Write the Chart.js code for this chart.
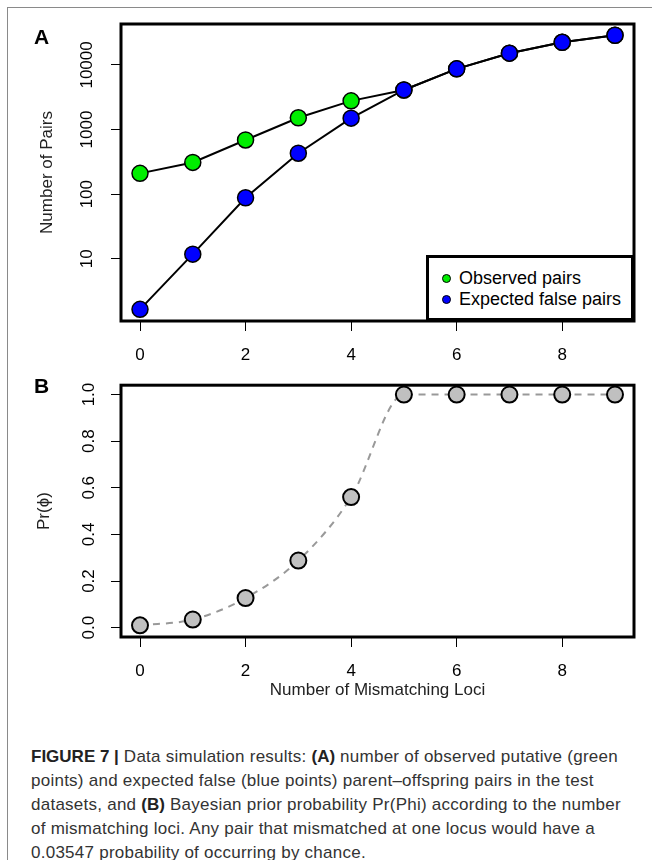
<!DOCTYPE html>
<html>
<head>
<meta charset="utf-8">
<script src="https://cdn.jsdelivr.net/npm/chart.js@4"></script>
<style>
  body { margin: 0; background: #fff; width: 652px; height: 860px; position: relative; overflow: hidden; font-family: "Liberation Sans", Arial, sans-serif; }
  .frame { position: absolute; left: 7px; top: 7px; width: 660px; height: 900px; border-left: 1px solid #8a8a8a; border-top: 1px solid #8a8a8a; }
  canvas { position: absolute; left: 0; }
  .panel { position: absolute; font-weight: bold; font-size: 21px; color: #000; }
  .legend { position: absolute; left: 426px; top: 255px; width: 208px; height: 66px; box-sizing: border-box;
            border: 3px solid #000; background: #fff; font-size: 18px; }
  .legend div { position: absolute; left: 30px; white-space: nowrap; line-height: 20px; }
  .legend span { position: absolute; left: -17px; top: 6px; width: 7px; height: 7px; border: 1px solid #000; border-radius: 50%; }
  .caption { position: absolute; left: 31px; top: 745px; font-family: "Liberation Sans", sans-serif; font-size: 17px; letter-spacing: 0.25px; line-height: 24px; color: #333; white-space: nowrap; }
  .caption b { font-weight: 700; color: #222; letter-spacing: 0; }
</style>
</head>
<body>
<div class="frame"></div>
<canvas id="chartA" width="652" height="365" style="top:0"></canvas>
<canvas id="chartB" width="652" height="340" style="top:365px"></canvas>
<div class="panel" style="left:34px; top:25px">A</div>
<div class="panel" style="left:34px; top:374px">B</div>
<div class="legend" id="legend"></div>
<div class="caption">
<b>FIGURE 7 |</b> Data simulation results: <b>(A)</b> number of observed putative (green<br>
points) and expected false (blue points) parent–offspring pairs in the test<br>
datasets, and <b>(B)</b> Bayesian prior probability Pr(Phi) according to the number<br>
of mismatching loci. Any pair that mismatched at one locus would have a<br>
0.03547 probability of occurring by chance.
</div>
<script>
// values
const mismatches = [0, 1, 2, 3, 4, 5, 6, 7, 8, 9];
const observedPairs = [210, 310, 690, 1520, 2780, 4100, 8700, 15200, 22400, 28800];
const expectedFalse = [1.65, 11.8, 88, 430, 1500, 4100, 8700, 15200, 22400, 28800];
const priorProb = [0.01, 0.035, 0.127, 0.288, 0.56, 1, 1, 1, 1, 1];

const xTicks = [0, 2, 4, 6, 8];
const yTicksA = [10, 100, 1000, 10000];
const yTicksB = [0, 0.2, 0.4, 0.6, 0.8, 1.0];

const legendItems = [
  { label: 'Observed pairs', color: '#00ee00' },
  { label: 'Expected false pairs', color: '#0000ff' }
];

const tickFont = { family: 'Liberation Sans', size: 17 };

toPoints = (vals) => mismatches.map((m, i) => ({ x: m, y: vals[i] }));

// R style box around the plot region
const boxPlugin = {
  id: 'box',
  afterDatasetsDraw(chart) {
    const a = chart.chartArea;
    const ctx = chart.ctx;
    ctx.save();
    ctx.strokeStyle = '#000';
    ctx.lineWidth = 3;
    ctx.strokeRect(a.left, a.top, a.right - a.left, a.bottom - a.top);
    ctx.restore();
  }
};

xScale = (titleText) => ({
  type: 'linear',
  min: -0.36,
  max: 9.36,
  afterBuildTicks: s => { s.ticks = xTicks.map(v => ({ value: v })); },
  afterFit: s => { s.height = titleText ? 68 : 44; },
  border: { display: false },
  grid: { drawOnChartArea: false, drawTicks: true, tickLength: 10, color: '#000', lineWidth: 1 },
  ticks: { font: tickFont, color: '#000', padding: 14, maxRotation: 0, callback: v => String(v) },
  title: titleText ? { display: true, text: titleText, font: tickFont, color: '#222', padding: { top: 0, bottom: 4 } } : { display: false }
});

new Chart(document.getElementById('chartA'), {
  type: 'line',
  data: {
    datasets: [
      {
        label: legendItems[0].label,
        data: toPoints(observedPairs),
        borderColor: '#000', borderWidth: 2,
        pointBackgroundColor: legendItems[0].color, pointBorderColor: '#000', pointBorderWidth: 1.5,
        pointRadius: 8, clip: false, order: 2
      },
      {
        label: legendItems[1].label,
        data: toPoints(expectedFalse),
        borderColor: '#000', borderWidth: 2,
        pointBackgroundColor: legendItems[1].color, pointBorderColor: '#000', pointBorderWidth: 1.5,
        pointRadius: 8, clip: false, order: 1
      }
    ]
  },
  options: {
    responsive: false,
    animation: false,
    layout: { padding: { top: 24, right: 18, left: 0, bottom: 0 } },
    plugins: { legend: { display: false }, tooltip: { enabled: false } },
    scales: {
      x: xScale(null),
      y: {
        type: 'logarithmic',
        min: 1.09,
        max: 43000,
        afterBuildTicks: s => { s.ticks = yTicksA.map(v => ({ value: v })); },
        afterFit: s => { s.width = 121; },
        border: { display: false },
        grid: { drawOnChartArea: false, drawTicks: true, tickLength: 10, color: '#000', lineWidth: 1 },
        ticks: { font: tickFont, color: '#000', padding: 0, minRotation: 90, maxRotation: 90, crossAlign: 'center', callback: v => String(v) },
        title: { display: true, text: 'Number of Pairs', font: tickFont, color: '#222', padding: { top: 37, bottom: 0 } }
      }
    }
  },
  plugins: [boxPlugin]
});

new Chart(document.getElementById('chartB'), {
  type: 'line',
  data: {
    datasets: [{
      data: toPoints(priorProb),
      borderColor: '#999', borderWidth: 2, borderDash: [7, 6],
      cubicInterpolationMode: 'monotone',
      pointBackgroundColor: '#c0c0c0', pointBorderColor: '#000', pointBorderWidth: 2,
      pointRadius: 8, clip: false
    }]
  },
  options: {
    responsive: false,
    animation: false,
    layout: { padding: { top: 17, right: 18, left: 0, bottom: 0 } },
    plugins: { legend: { display: false }, tooltip: { enabled: false } },
    scales: {
      x: xScale('Number of Mismatching Loci'),
      y: {
        type: 'linear',
        min: -0.04,
        max: 1.04,
        afterBuildTicks: s => { s.ticks = yTicksB.map(v => ({ value: v })); },
        afterFit: s => { s.width = 121; },
        border: { display: false },
        grid: { drawOnChartArea: false, drawTicks: true, tickLength: 10, color: '#000', lineWidth: 1 },
        ticks: { font: tickFont, color: '#000', padding: 10, minRotation: 90, maxRotation: 90, crossAlign: 'center', callback: v => v.toFixed(1) },
        title: { display: true, text: 'Pr(\u03D5)', font: tickFont, color: '#222', padding: { top: 34, bottom: 0 } }
      }
    }
  },
  plugins: [boxPlugin]
});

// legend box inside panel A
const legend = document.getElementById('legend');
legendItems.forEach((item, i) => {
  const row = document.createElement('div');
  row.style.top = (10 + i * 21.3) + 'px';
  row.innerHTML = '<span style="background:' + item.color + '"></span>' + item.label;
  legend.appendChild(row);
});
</script>
</body>
</html>
